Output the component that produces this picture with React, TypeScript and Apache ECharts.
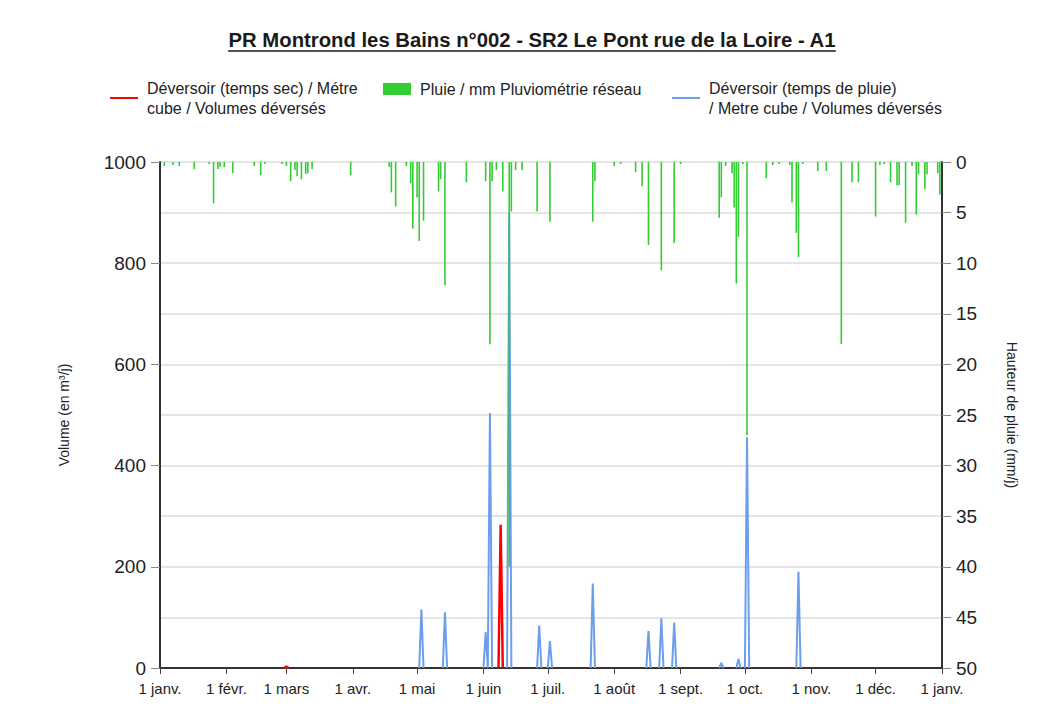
import React, { useEffect, useRef } from "react";
import * as echarts from "echarts";

const monthLengths = [31, 28, 31, 30, 31, 30, 31, 31, 30, 31, 30, 31];
const monthNames = ["janv.", "févr.", "mars", "avr.", "mai", "juin", "juil.", "août", "sept.", "oct.", "nov.", "déc."];

// Rain (mm/day): day index from 1 Jan (0-based) and height
const rainDays = [2, 6, 9, 16, 23, 25, 27, 28, 30, 34, 44, 47, 49, 57, 59, 61, 63, 64, 66, 68, 69, 71, 89, 107, 108, 110, 115, 117, 118, 120, 121, 123, 130, 131, 133, 143, 152, 154, 155, 157, 160, 163, 164, 166, 169, 176, 182, 202, 203, 212, 215, 222, 225, 228, 234, 240, 243, 261, 262, 264, 267, 268, 269, 270, 272, 274, 283, 286, 289, 294, 295, 297, 298, 300, 307, 311, 318, 323, 326, 334, 336, 338, 341, 344, 345, 348, 351, 353, 354, 357, 358, 363, 364];
const rainMm = [0.4, 0.3, 0.4, 0.7, 0.2, 4.1, 0.7, 0.5, 0.5, 1.1, 0.4, 1.3, 0.2, 0.2, 0.4, 1.9, 0.8, 1.4, 1.7, 1.2, 1.1, 0.7, 1.3, 0.5, 3.0, 4.4, 0.4, 2.1, 6.6, 3.5, 7.8, 5.8, 2.9, 1.7, 12.2, 2.0, 1.9, 18, 1.9, 0.8, 2.9, 40, 4.9, 0.8, 0.8, 4.9, 5.9, 5.9, 1.9, 0.4, 0.2, 1.0, 2.4, 8.2, 10.7, 8.0, 0.2, 5.5, 3.5, 0.4, 1.1, 4.5, 12.0, 7.4, 0.2, 27, 1.6, 0.3, 0.2, 0.3, 4.0, 7.0, 9.4, 0.2, 0.9, 0.9, 18, 2.0, 2.0, 5.4, 0.3, 0.2, 2.0, 2.3, 2.3, 6.0, 0.4, 5.2, 1.2, 2.7, 1.2, 1.1, 3.2];

// Overflow in rainy weather (m3/day)
const wetDays = [122, 133, 152, 154, 163, 177, 182, 202, 228, 234, 240, 262, 270, 274, 298];
const wetVol = [116, 110, 71, 504, 900, 84, 53, 167, 73, 98, 90, 10, 18, 456, 190];

// Overflow in dry weather (m3/day)
const dryDays = [59, 159];
const dryVol = [3, 283];

const TITLE = "PR Montrond les Bains n°002 - SR2 Le Pont rue de la Loire - A1";
const NAME_DRY = "Déversoir (temps sec) / Métre\ncube / Volumes déversés";
const NAME_RAIN = "Pluie / mm Pluviométrie réseau";
const NAME_WET = "Déversoir (temps de pluie)\n/ Metre cube / Volumes déversés";

const FONT = "'Liberation Sans', Arial, sans-serif";

function buildCategories(): string[] {
  const cats: string[] = [];
  monthLengths.forEach((len, m) => {
    for (let d = 1; d <= len; d++) cats.push(`${m}-${d}`);
  });
  cats.push(`0-1`);
  return cats;
}

function fill(n: number, days: number[], vals: number[]): number[] {
  const arr = new Array(n).fill(0);
  days.forEach((d, i) => (arr[d] = vals[i]));
  return arr;
}

// zero days that are not next to a non-zero day are left empty (hidden under the axis)
function fillSpikes(n: number, days: number[], vals: number[]): (number | null)[] {
  const arr: (number | null)[] = new Array(n).fill(null);
  days.forEach((d) => {
    if (d - 1 >= 0 && arr[d - 1] == null) arr[d - 1] = 0;
    if (d + 1 < n && arr[d + 1] == null) arr[d + 1] = 0;
  });
  days.forEach((d, i) => (arr[d] = vals[i]));
  return arr;
}

export default function App() {
  const ref = useRef<HTMLDivElement>(null);
  useEffect(() => {
    if (!ref.current) return;
    const chart = echarts.init(ref.current, undefined, { renderer: "svg" });
    const cats = buildCategories();
    const catKeys = cats.map((c, i) => `${c}|${i}`);
    const n = catKeys.length;
    const rain = fill(n, rainDays, rainMm);
    const wet = fillSpikes(n, wetDays, wetVol);
    const dry = fillSpikes(n, dryDays, dryVol);

    const isMonthStart = (_i: number, v: string) => v.split("|")[0].split("-")[1] === "1";

    const cvs = document.createElement("canvas");
    const ctx = cvs.getContext("2d")!;
    const titleFont = `bold 20.3px ${FONT}`;
    ctx.font = titleFont;
    const tw = ctx.measureText(TITLE).width;
    const cx = 532;

    const legendText = { fontSize: 16, color: "#222", lineHeight: 20, fontFamily: FONT, padding: [0, 0, 0, 4] };

    chart.setOption({
      animation: false,
      backgroundColor: "#ffffff",
      textStyle: { fontFamily: FONT },
      graphic: [
        {
          type: "text",
          x: cx,
          y: 40,
          style: {
            text: TITLE,
            font: titleFont,
            fill: "#1a1a1a",
            textAlign: "center",
            textVerticalAlign: "middle",
          },
        },
        {
          type: "line",
          shape: { x1: cx - tw / 2, y1: 51, x2: cx + tw / 2, y2: 51 },
          style: { stroke: "#1a1a1a", lineWidth: 1.5 },
        },
      ],
      legend: [
        {
          left: 110,
          top: 78,
          padding: 0,
          data: [{ name: NAME_DRY, icon: "rect" }],
          itemWidth: 28,
          itemHeight: 2,
          textStyle: legendText,
        },
        {
          left: 383,
          top: 79,
          padding: 0,
          data: [{ name: NAME_RAIN, icon: "rect" }],
          itemWidth: 28,
          itemHeight: 12,
          textStyle: legendText,
        },
        {
          left: 672,
          top: 78,
          padding: 0,
          data: [{ name: NAME_WET, icon: "rect" }],
          itemWidth: 28,
          itemHeight: 2,
          textStyle: legendText,
        },
      ],
      grid: { left: 160, right: 104, top: 162, bottom: 57, containLabel: false },
      xAxis: {
        type: "category",
        data: catKeys,
        boundaryGap: false,
        axisLine: { show: true, lineStyle: { color: "#333", width: 2 } },
        axisTick: { show: true, length: 6, interval: isMonthStart, lineStyle: { color: "#444" } },
        axisLabel: {
          interval: isMonthStart,
          fontSize: 15,
          color: "#222",
          margin: 13,
          fontFamily: FONT,
          formatter: (v: string) => {
            const [m, d] = v.split("|")[0].split("-");
            return `${d} ${monthNames[Number(m)]}`;
          },
        },
        splitLine: { show: false },
      },
      yAxis: [
        {
          type: "value",
          min: 0,
          max: 1000,
          interval: 200,
          name: "Volume (en m³/j)",
          nameLocation: "middle",
          nameGap: 89,
          nameTextStyle: { fontSize: 14, color: "#222", fontFamily: FONT },
          axisLine: { show: true, lineStyle: { color: "#333", width: 2 } },
          axisTick: { show: true, length: 9, lineStyle: { color: "#888" } },
          axisLabel: { fontSize: 19, color: "#222", margin: 14, fontFamily: FONT, formatter: (v: number) => String(v) },
          splitLine: { show: false },
        },
        {
          type: "value",
          min: 0,
          max: 50,
          interval: 5,
          inverse: true,
          position: "right",
          name: "Hauteur de pluie (mm/j)",
          nameLocation: "middle",
          nameRotate: -90,
          nameGap: 63,
          nameTextStyle: { fontSize: 14, color: "#222", fontFamily: FONT },
          axisLine: { show: true, lineStyle: { color: "#333", width: 2 } },
          axisTick: { show: true, length: 9, lineStyle: { color: "#888" } },
          axisLabel: { fontSize: 19, color: "#222", margin: 14, fontFamily: FONT },
          splitLine: { show: true, lineStyle: { color: "#dcdcdc", width: 1.5 } },
        },
      ],
      series: [
        {
          name: NAME_WET,
          type: "line",
          yAxisIndex: 0,
          data: wet,
          symbol: "none",
          connectNulls: false,
          lineStyle: { color: "#6d9eeb", width: 2 },
          itemStyle: { color: "#6d9eeb" },
          z: 2,
        },
        {
          name: NAME_DRY,
          type: "line",
          yAxisIndex: 0,
          data: dry,
          symbol: "none",
          connectNulls: false,
          lineStyle: { color: "#ff0000", width: 2.5 },
          itemStyle: { color: "#ff0000" },
          z: 3,
        },
        {
          name: NAME_RAIN,
          type: "bar",
          yAxisIndex: 1,
          data: rain,
          barWidth: 1.6,
          itemStyle: { color: "#33cc33" },
          z: 4,
        },
      ],
    });
    return () => chart.dispose();
  }, []);
  return <div ref={ref} style={{ position: "fixed", left: 0, top: 0, width: 1046, height: 725 }} />;
}
